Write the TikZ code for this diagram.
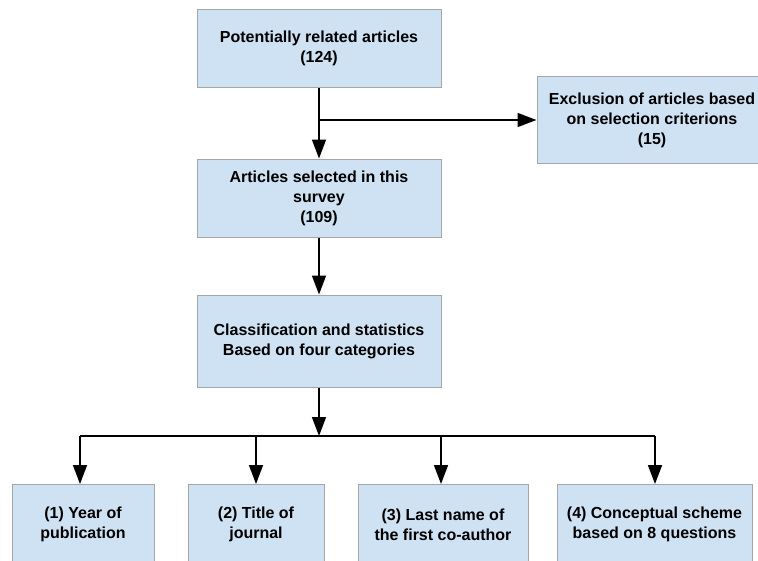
\documentclass[tikz,border=0pt]{standalone}
\usepackage{fontspec}
\setmainfont{Liberation Sans}
\usetikzlibrary{arrows.meta,positioning}
\begin{document}
\begin{tikzpicture}[x=1pt,y=-1pt,
  box/.style={draw=gray!70,line width=1pt,fill={rgb,255:red,207;green,226;blue,243},
    align=center,font=\fontsize{16}{20}\selectfont\bfseries,inner sep=2pt},
  flow/.style={line width=1.6pt,-{Triangle[length=19pt,width=14pt]}}]
\clip (0,0) rectangle (758,560);
\node[box,minimum width=244pt,minimum height=78pt] (top) at (319,48) {Potentially related articles\\(124)};
\node[box,minimum width=230pt,minimum height=87pt] (excl) at (652,120) {Exclusion of articles based\\on selection criterions\\(15)};
\node[box,minimum width=244pt,minimum height=78pt] (sel) at (319,198) {Articles selected in this\\survey\\(109)};
\node[box,minimum width=244pt,minimum height=92pt] (cls) at (319,341) {Classification and statistics\\Based on four categories};
\node[box,minimum width=142pt,minimum height=80pt,anchor=north] (c1) at (83,484) {(1) Year of\\publication};
\node[box,minimum width=136pt,minimum height=80pt,anchor=north] (c2) at (256,484) {(2) Title of\\journal};
\node[box,minimum width=170pt,minimum height=80pt,anchor=north] (c3) at (443,484) {(3) Last name of\\the first co-author};
\node[box,minimum width=195pt,minimum height=80pt,anchor=north] (c4) at (654.5,484) {(4) Conceptual scheme\\based on 8 questions};
\coordinate (fork) at (319,120);
\coordinate (bar) at (319,436);
\coordinate (b1) at (80,436);
\coordinate (b3) at (441,436);
\coordinate (b4) at (655,436);
\draw[flow] (top) -- (sel);
\draw[flow] (fork) -- (excl);
\draw[flow] (sel) -- (cls);
\draw[flow] (cls) -- (bar);
\draw[line width=1.6pt] (b1) -- (b4);
\draw[flow] (b1) -- (b1 |- c1.north);
\draw[flow] (bar -| c2) -- (c2);
\draw[flow] (b3) -- (b3 |- c3.north);
\draw[flow] (b4) -- (b4 |- c4.north);
\end{tikzpicture}
\end{document}
